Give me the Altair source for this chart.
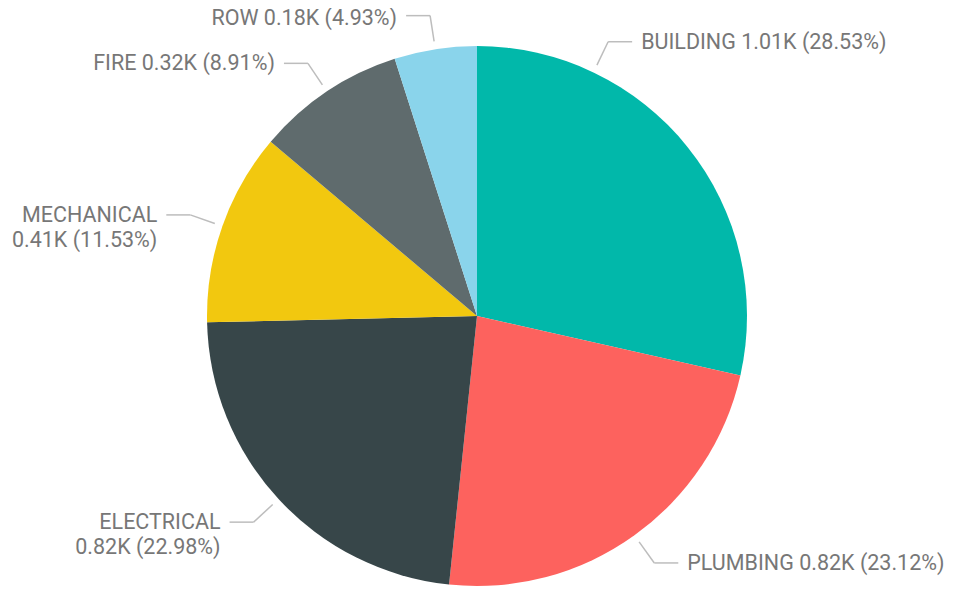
import altair as alt
import pandas as pd

categories = ["BUILDING", "PLUMBING", "ELECTRICAL", "MECHANICAL", "FIRE", "ROW"]
values_k = [1.01, 0.82, 0.82, 0.41, 0.32, 0.18]
shares = [28.53, 23.12, 22.98, 11.53, 8.91, 4.93]
colors = ["#01B8AA", "#FD625E", "#374649", "#F2C80F", "#5F6B6D", "#8AD4EB"]

df = pd.DataFrame({
    "category": categories,
    "value_k": values_k,
    "share": shares,
    "idx": list(range(len(categories))),
})

CX, CY, R = 469, 308, 270
R1, R2, HL, GAP = 278, 304, 24, 9

arcs = alt.Chart(df).mark_arc(radius=R).encode(
    theta=alt.Theta("share:Q", stack=True),
    color=alt.Color("category:N", scale=alt.Scale(domain=categories, range=colors), legend=None),
    order=alt.Order("idx:Q"),
    x=alt.value(CX),
    y=alt.value(CY),
)

base = (
    alt.Chart(df)
    .transform_window(cum="sum(share)", sort=[alt.SortField("idx")], frame=[None, 0])
    .transform_joinaggregate(total="sum(share)")
    .transform_calculate(mid="(datum.cum - datum.share / 2) / datum.total * 2 * PI")
    .transform_calculate(ang="datum.category == 'BUILDING' ? 0.446 : datum.mid")
    .transform_calculate(
        side="sin(datum.ang) >= 0 ? 1 : -1",
        x1=f"{CX} + {R1} * sin(datum.ang)",
        y1=f"{CY} - {R1} * cos(datum.ang)",
        x2=f"{CX} + {R2} * sin(datum.ang)",
        y2=f"{CY} - {R2} * cos(datum.ang)",
    )
    .transform_calculate(
        x3=f"datum.x2 + {HL} * datum.side",
        tx=f"datum.x2 + {HL + GAP} * datum.side",
        ty="max(datum.y2 + 1, 11)",
        label="datum.category + (indexof(['MECHANICAL', 'ELECTRICAL'], datum.category) >= 0 ? '\\n' : ' ') + format(datum.value_k, '.2f') + 'K (' + format(datum.share, '.2f') + '%)'",
    )
)

seg1 = base.mark_rule(color="#BDBDBD", strokeWidth=1.5).encode(
    x=alt.X("x1:Q", scale=None, axis=None),
    y=alt.Y("y1:Q", scale=None, axis=None),
    x2="x2:Q",
    y2="y2:Q",
)
seg2 = base.mark_rule(color="#BDBDBD", strokeWidth=1.5).encode(
    x=alt.X("x2:Q", scale=None, axis=None),
    y=alt.Y("y2:Q", scale=None, axis=None),
    x2="x3:Q",
    y2="y2:Q",
)

text_style = dict(baseline="middle", font="Roboto", fontSize=21.5, color="#777777", lineBreak="\n", lineHeight=25)
right_txt = base.transform_filter("datum.side > 0").mark_text(align="left", **text_style).encode(
    x=alt.X("tx:Q", scale=None, axis=None),
    y=alt.Y("ty:Q", scale=None, axis=None),
    text="label:N",
)
left_txt = base.transform_filter("datum.side < 0").mark_text(align="right", **text_style).encode(
    x=alt.X("tx:Q", scale=None, axis=None),
    y=alt.Y("ty:Q", scale=None, axis=None),
    text="label:N",
)

chart = (
    alt.layer(arcs, seg1, seg2, right_txt, left_txt)
    .properties(width=937, height=581, autosize="none", padding=0)
    .configure_view(stroke=None)
)

chart.save("out.html", embed_options={"renderer": "svg", "actions": False})
